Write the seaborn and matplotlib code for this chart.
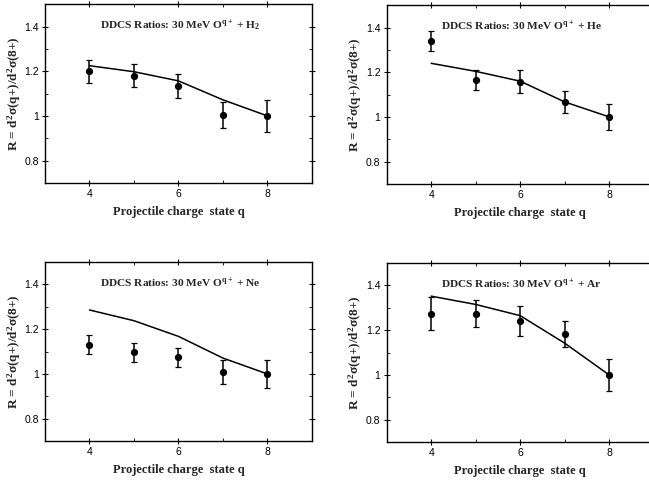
import matplotlib
matplotlib.use("Agg")
import matplotlib.pyplot as plt
import seaborn as sns
import pandas as pd
from matplotlib.ticker import MultipleLocator, FixedLocator

sns.set_theme(style="white")
plt.rcParams['font.family'] = ['Liberation Serif', 'DejaVu Serif']
plt.rcParams['mathtext.fontset'] = 'custom'
plt.rcParams['mathtext.rm'] = 'Liberation Serif:bold'
plt.rcParams['mathtext.it'] = 'Liberation Serif:bold'
plt.rcParams['mathtext.bf'] = 'Liberation Serif:bold'

q = [4, 5, 6, 7, 8]
targets = ["H$_2$", "He", "Ne", "Ar"]

# measured ratios and errors
h2_meas = [1.200, 1.181, 1.133, 1.004, 1.000]
h2_err = [0.052, 0.052, 0.053, 0.058, 0.070]
h2_theory = [1.225, 1.198, 1.157, 1.072, 1.000]

he_meas = [1.339, 1.164, 1.158, 1.066, 1.000]
he_err = [0.045, 0.045, 0.053, 0.050, 0.057]
he_theory = [1.240, 1.204, 1.160, 1.067, 1.000]

ne_meas = [1.131, 1.097, 1.074, 1.007, 1.000]
ne_err = [0.042, 0.042, 0.042, 0.054, 0.062]
ne_theory = [1.286, 1.238, 1.168, 1.071, 1.000]

ar_meas = [1.274, 1.274, 1.243, 1.183, 1.000]
ar_err = [0.073, 0.060, 0.067, 0.060, 0.070]
ar_theory = [1.352, 1.315, 1.265, 1.142, 1.000]

meas = [h2_meas, he_meas, ne_meas, ar_meas]
errs = [h2_err, he_err, ne_err, ar_err]
theory = [h2_theory, he_theory, ne_theory, ar_theory]

xticks = [4, 6, 8]
yticks = [0.8, 1.0, 1.2, 1.4]
ytick_labels = ["0.8", "1", "1.2", "1.4"]

fig = plt.figure(figsize=(6.49, 4.80), dpi=100)
positions = [
    [0.0693, 0.619, 0.4114, 0.372],
    [0.5958, 0.617, 0.4114, 0.372],
    [0.0693, 0.081, 0.4114, 0.373],
    [0.5958, 0.079, 0.4114, 0.373],
]

for i in range(4):
    ax = fig.add_axes(positions[i])
    df = pd.DataFrame({"q": q, "R": theory[i]})
    sns.lineplot(data=df, x="q", y="R", color="black", linewidth=1.1, ax=ax)
    ax.errorbar(q, meas[i], yerr=errs[i], fmt="o", color="black",
                markersize=4.2, elinewidth=1.1, capsize=2.2, capthick=0.9, zorder=3)
    ax.set_xlim(3, 9)
    ax.set_ylim(0.7, 1.5)
    ax.xaxis.set_major_locator(FixedLocator(xticks))
    ax.xaxis.set_minor_locator(MultipleLocator(1))
    ax.yaxis.set_major_locator(FixedLocator(yticks))
    ax.yaxis.set_minor_locator(MultipleLocator(0.1))
    ax.set_yticklabels(ytick_labels, family=['Liberation Sans', 'DejaVu Sans'], fontsize=7.5)
    ax.set_xticklabels([str(v) for v in xticks], family=['Liberation Sans', 'DejaVu Sans'], fontsize=7.5)
    ax.tick_params(which="major", direction="inout", length=5, width=0.8,
                   top=True, right=True, bottom=True, left=True, pad=2, colors="black")
    ax.tick_params(which="minor", direction="in", length=2.5, width=0.7,
                   top=True, right=True, bottom=True, left=True)
    for s in ax.spines.values():
        s.set_color("black")
        s.set_linewidth(1.0)
    ax.set_xlabel("Projectile charge  state q", fontsize=9, fontweight="bold", labelpad=5)
    ax.set_ylabel(r"R = d$^2\sigma$(q+)/d$^2\sigma$(8+)", fontsize=9.5, fontweight="bold", labelpad=1)
    ax.text(0.505, 0.88, "DDCS Ratios: 30 MeV O$^{q+}$ + " + targets[i],
            transform=ax.transAxes, ha="center", va="center",
            fontsize=8.2, fontweight="bold")

fig.savefig("out.png", dpi=100)
